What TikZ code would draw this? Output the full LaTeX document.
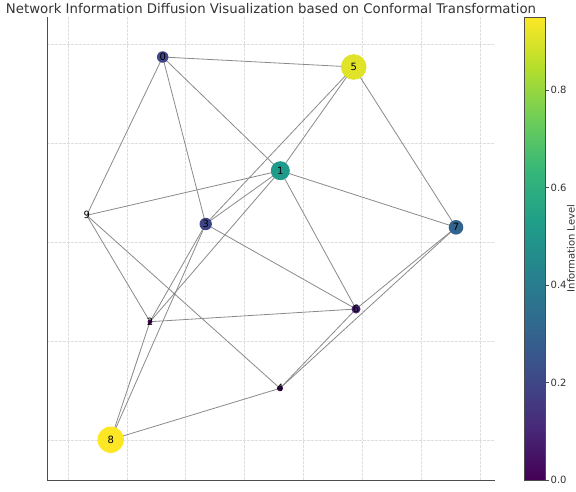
\documentclass[tikz,border=0pt]{standalone}
\usepackage{fontspec}
\setmainfont{DejaVu Sans}
\usetikzlibrary{backgrounds}
\definecolor{vir0}{HTML}{440154}
\definecolor{vir1}{HTML}{482878}
\definecolor{vir2}{HTML}{3E4A89}
\definecolor{vir3}{HTML}{31688E}
\definecolor{vir4}{HTML}{26828E}
\definecolor{vir5}{HTML}{1F9E89}
\definecolor{vir6}{HTML}{35B779}
\definecolor{vir7}{HTML}{6DCD59}
\definecolor{vir8}{HTML}{B4DE2C}
\definecolor{vir9}{HTML}{FDE725}
\definecolor{edgegray}{HTML}{8A8A8A}
\definecolor{gridgray}{HTML}{DEDEDE}
\definecolor{txtgray}{HTML}{333333}
\pgfdeclareverticalshading{viridis}{100bp}{color(0bp)=(vir0); color(25bp)=(vir0);
  color(30.556bp)=(vir1); color(36.111bp)=(vir2); color(41.667bp)=(vir3);
  color(47.222bp)=(vir4); color(52.778bp)=(vir5); color(58.333bp)=(vir6);
  color(63.889bp)=(vir7); color(69.444bp)=(vir8); color(75bp)=(vir9); color(100bp)=(vir9)}
\tikzset{
  vert/.style={circle,inner sep=0pt},
  lab/.style={inner sep=0pt,font=\fontsize{10}{12}\selectfont},
  edge/.style={edgegray,line width=0.8pt},
  gridline/.style={gridgray,line width=0.6pt,dash pattern=on 2.5pt off 1.5pt},
  spine/.style={black!70,line width=0.8pt},
  ticklab/.style={anchor=west,text=txtgray,font=\fontsize{10}{12}\selectfont,inner sep=0pt}
}
\begin{document}
\begin{tikzpicture}[x=1pt,y=-1pt]
		\useasboundingbox (0,0) rectangle (576,491);
		\node[anchor=base,text=txtgray,font=\fontsize{13.3}{15}\selectfont] (title) at (271,13.5) {Network Information Diffusion Visualization based on Conformal Transformation};
		% nodes, size and colour from the information level
		\node[vert,fill=vir2!85!vir1,minimum size=11.5pt,label={[lab]center:0}] (n0) at (162.7,57) {};
		\node[vert,fill=vir5!85!vir4,minimum size=19pt,label={[lab]center:1}] (n1) at (280.3,170.7) {};
		\node[vert,fill=vir0!85!vir1,minimum size=4.8pt,label={[lab]center:2}] (n2) at (150,321.7) {};
		\node[vert,fill=vir2!85!vir1,minimum size=12.4pt,label={[lab]center:3}] (n3) at (205.7,224) {};
		\node[vert,fill=vir0!90!vir1,minimum size=6pt,label={[lab]center:4}] (n4) at (280,388.3) {};
		\node[vert,fill=vir9!60!vir8,minimum size=25.6pt,label={[lab]center:5}] (n5) at (353.7,67) {};
		\node[vert,fill=vir1!80!vir0,minimum size=9pt,label={[lab]center:6}] (n6) at (356,309) {};
		\node[vert,fill=vir3!85!vir2,minimum size=14.6pt,label={[lab]center:7}] (n7) at (456,227.3) {};
		\node[vert,fill=vir9,minimum size=26.4pt,label={[lab]center:8}] (n8) at (110.7,439.7) {};
		\node[vert,label={[lab]center:9}] (n9) at (86.7,215.3) {};
		\begin{pgfonlayer}{background}
		% grid and spines
		\foreach \gx in {68,126.86,185.71,244.57,303.43,362.29,421.14,480}
			\draw[gridline] (\gx,17) -- (\gx,480);
		\foreach \gy in {44,143,242,341,440}
			\draw[gridline] (47,\gy) -- (495,\gy);
		\draw[spine] (47,17) -- (47,480) -- (495,480);
		% edges
		\draw[edge] (n0.center) -- (n5.center);
		\draw[edge] (n0.center) -- (n9.center);
		\draw[edge] (n0.center) -- (n3.center);
		\draw[edge] (n0.center) -- (n1.center);
		\draw[edge] (n1.center) -- (n5.center);
		\draw[edge] (n1.center) -- (n9.center);
		\draw[edge] (n1.center) -- (n3.center);
		\draw[edge] (n1.center) -- (n2.center);
		\draw[edge] (n1.center) -- (n6.center);
		\draw[edge] (n1.center) -- (n7.center);
		\draw[edge] (n5.center) -- (n3.center);
		\draw[edge] (n5.center) -- (n7.center);
		\draw[edge] (n9.center) -- (n2.center);
		\draw[edge] (n9.center) -- (n4.center);
		\draw[edge] (n3.center) -- (n6.center);
		\draw[edge] (n3.center) -- (n2.center);
		\draw[edge] (n3.center) -- (n8.center);
		\draw[edge] (n2.center) -- (n6.center);
		\draw[edge] (n2.center) -- (n8.center);
		\draw[edge] (n8.center) -- (n4.center);
		\draw[edge] (n4.center) -- (n6.center);
		\draw[edge] (n4.center) -- (n7.center);
		\draw[edge] (n6.center) -- (n7.center);
		\end{pgfonlayer}
		% colour bar
		\shade[shading=viridis] (524,17) rectangle (545,480);
		\draw[black!70,line width=0.8pt] (524,17) rectangle (545,480);
		\draw[black!70,line width=0.8pt] (545,480) -- (548.5,480) (545,382.5) -- (548.5,382.5) (545,285) -- (548.5,285) (545,187.5) -- (548.5,187.5) (545,90) -- (548.5,90);
		\node[ticklab] (t0) at (550.5,480) {0.0};
		\node[ticklab] (t2) at (550.5,382.5) {0.2};
		\node[ticklab] (t4) at (550.5,285) {0.4};
		\node[ticklab] (t6) at (550.5,187.5) {0.6};
		\node[ticklab] (t8) at (550.5,90) {0.8};
		\node[rotate=90,text=txtgray,font=\fontsize{10}{12}\selectfont,inner sep=0pt] (cblabel) at (571,248.5) {Information Level};
	\end{tikzpicture}
\end{document}
